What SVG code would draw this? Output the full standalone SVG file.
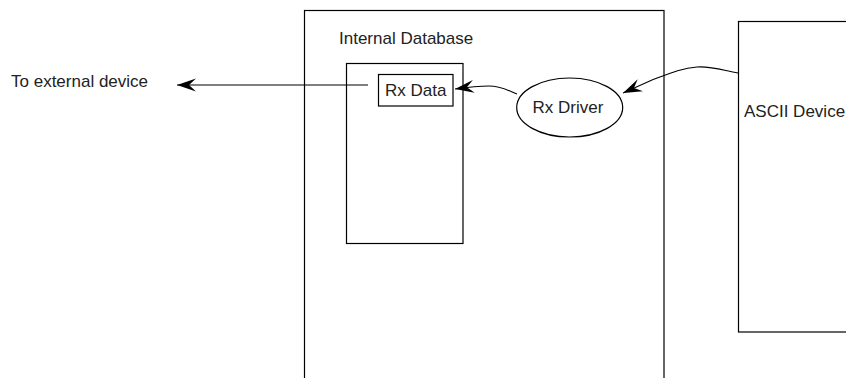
<svg xmlns="http://www.w3.org/2000/svg" width="846" height="378" viewBox="0 0 846 378">
  <style>
    .box { fill: none; stroke: #000; stroke-width: 1.2; }
    .lbl { font-family: "Liberation Sans", Arial, sans-serif; font-size: 17px; fill: #222; }
    .wire { fill: none; stroke: #000; stroke-width: 1.1; }
  </style>
  <defs>
    <marker id="head" viewBox="-20 -8 22 16" markerWidth="22" markerHeight="16" refX="0" refY="0" markerUnits="userSpaceOnUse" orient="auto">
      <path d="M0,0 L-19,-6.5 L-12,0 L-19,6.5 Z" fill="#000"/>
    </marker>
  </defs>
  <rect width="846" height="378" fill="#fff"/>

  <g id="internal-database">
    <rect class="box" x="304.5" y="10.5" width="359.5" height="380"/>
    <text class="lbl" x="339" y="44">Internal Database</text>
  </g>

  <g id="data-table">
    <rect class="box" x="346.5" y="63.5" width="116.5" height="180" stroke="#444"/>
  </g>

  <g id="rx-data">
    <rect class="box" x="378.5" y="74.5" width="74.5" height="31.5"/>
    <text class="lbl" x="415.7" y="96" text-anchor="middle">Rx Data</text>
  </g>

  <g id="rx-driver">
    <ellipse class="box" cx="569.7" cy="107.5" rx="53" ry="29.5"/>
    <text class="lbl" x="568" y="112.5" text-anchor="middle">Rx Driver</text>
  </g>

  <g id="ascii-device">
    <rect class="box" x="738.5" y="21.5" width="120" height="310.5"/>
    <text class="lbl" x="744" y="117">ASCII Device</text>
  </g>

  <g id="external-device">
    <text class="lbl" x="11" y="86.5">To external device</text>
  </g>

  <g id="connectors">
    <path class="wire" d="M368,85 L177,85" marker-end="url(#head)"/>
    <path class="wire" d="M517,94 C507,90 501,86 489,86 C479,86 469,87 455,89" marker-end="url(#head)"/>
    <path class="wire" d="M738,73 C722,70 711,66 697,67 C682,68 668,74 652,80 L623,93" marker-end="url(#head)"/>
  </g>
</svg>
